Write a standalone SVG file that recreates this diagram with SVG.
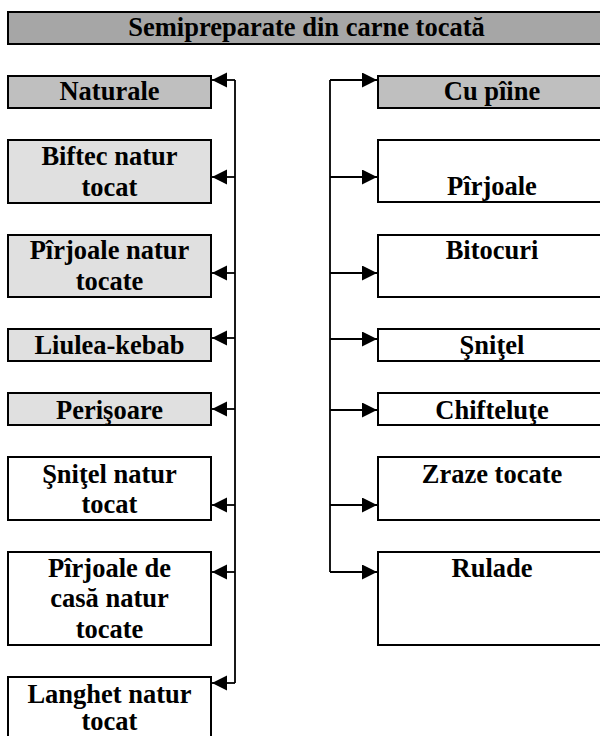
<svg xmlns="http://www.w3.org/2000/svg" width="600" height="736" viewBox="0 0 600 736">
<defs>
<style>
.box{stroke:#000;stroke-width:2}
.t0{fill:#a6a6a6}
.t1{fill:#bfbfbf}
.t2{fill:#e0e0e0}
.w{fill:#fff}
text{font-family:"Liberation Serif","Times New Roman",serif;font-weight:bold;font-size:26.5px;fill:#000;text-anchor:middle}
.con{fill:none;stroke:#000;stroke-width:1.8}
</style>
<marker id="ah" markerUnits="userSpaceOnUse" markerWidth="16" markerHeight="16" refX="15" refY="7.5" orient="auto">
<path d="M0,0 L15,7.5 L0,15 Z" fill="#000"/>
</marker>
</defs>
<rect width="600" height="736" fill="#fff"/>
<g id="title"><rect class="box t0" x="8" y="12" width="600" height="32"/><text x="306.5" y="36">Semipreparate din carne tocată</text></g>
<g id="naturale"><rect class="box t1" x="8" y="76" width="203" height="32"/><text x="109.5" y="100">Naturale</text></g>
<g id="cupiine"><rect class="box t1" x="378" y="76" width="230" height="32"/><text x="492" y="100">Cu pîine</text></g>
<g id="biftec"><rect class="box t2" x="8" y="140" width="203" height="63"/><text x="109.5" y="165">Biftec natur</text><text x="109.5" y="196">tocat</text></g>
<g id="pirjoale-natur"><rect class="box t2" x="8" y="235" width="203" height="62"/><text x="109.5" y="259">Pîrjoale natur</text><text x="109.5" y="290">tocate</text></g>
<g id="liulea"><rect class="box t2" x="8" y="329" width="203" height="32"/><text x="109.5" y="354">Liulea-kebab</text></g>
<g id="perisoare"><rect class="box t2" x="8" y="393" width="203" height="32"/><text x="109.5" y="419">Perişoare</text></g>
<g id="snitel-natur"><rect class="box w" x="8" y="457" width="203" height="63"/><text x="109.5" y="483">Şniţel natur</text><text x="109.5" y="513">tocat</text></g>
<g id="pirjoale-casa"><rect class="box w" x="8" y="552" width="203" height="93"/><text x="109.5" y="577">Pîrjoale de</text><text x="109.5" y="607">casă natur</text><text x="109.5" y="638">tocate</text></g>
<g id="langhet"><rect class="box w" x="8" y="677" width="203" height="66"/><text x="109.5" y="703">Langhet natur</text><text x="109.5" y="730">tocat</text></g>
<g id="pirjoale"><rect class="box w" x="378" y="140" width="230" height="62"/><text x="492" y="195">Pîrjoale</text></g>
<g id="bitocuri"><rect class="box w" x="378" y="235" width="230" height="62"/><text x="492" y="259">Bitocuri</text></g>
<g id="snitel"><rect class="box w" x="378" y="329" width="230" height="32"/><text x="492" y="354">Şniţel</text></g>
<g id="chiftelute"><rect class="box w" x="378" y="393" width="230" height="32"/><text x="492" y="419">Chifteluţe</text></g>
<g id="zraze"><rect class="box w" x="378" y="457" width="230" height="63"/><text x="492" y="483">Zraze tocate</text></g>
<g id="rulade"><rect class="box w" x="378" y="552" width="230" height="93"/><text x="492" y="577">Rulade</text></g>
<g id="connectors">
<path class="con" d="M235,80 V683"/>
<path class="con" d="M235,80 H212" marker-end="url(#ah)"/>
<path class="con" d="M235,177 H212" marker-end="url(#ah)"/>
<path class="con" d="M235,273 H212" marker-end="url(#ah)"/>
<path class="con" d="M235,338 H212" marker-end="url(#ah)"/>
<path class="con" d="M235,409 H212" marker-end="url(#ah)"/>
<path class="con" d="M235,505 H212" marker-end="url(#ah)"/>
<path class="con" d="M235,572 H212" marker-end="url(#ah)"/>
<path class="con" d="M235,683 H212" marker-end="url(#ah)"/>
<path class="con" d="M330,80 V572"/>
<path class="con" d="M330,80 H377" marker-end="url(#ah)"/>
<path class="con" d="M330,177 H377" marker-end="url(#ah)"/>
<path class="con" d="M330,273 H377" marker-end="url(#ah)"/>
<path class="con" d="M330,339 H377" marker-end="url(#ah)"/>
<path class="con" d="M330,410 H377" marker-end="url(#ah)"/>
<path class="con" d="M330,505 H377" marker-end="url(#ah)"/>
<path class="con" d="M330,572 H377" marker-end="url(#ah)"/>
</g>
</svg>
